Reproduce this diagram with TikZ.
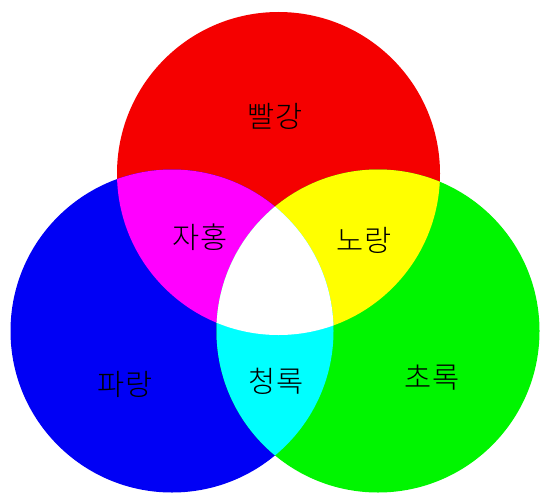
\documentclass[tikz,border=0pt]{standalone}
\usepackage{fontspec}
\newfontfamily\kor{Noto Sans CJK KR Light}
\definecolor{cR}{RGB}{245,0,0}
\definecolor{cG}{RGB}{0,245,0}
\definecolor{cB}{RGB}{0,0,245}
\definecolor{cM}{RGB}{255,0,255}
\definecolor{cY}{RGB}{255,255,0}
\definecolor{cC}{RGB}{0,255,255}
\begin{document}
\begin{tikzpicture}[x=1pt,y=-1pt,
  lab/.style={font=\kor\fontsize{29.5}{32}\selectfont, text=black, inner sep=0pt}]
\useasboundingbox[fill=white] (0,0) rectangle (548,503);
\def\rad{161.5}
\coordinate (R) at (278.5,173.5);
\coordinate (B) at (172,331);
\coordinate (G) at (378,331);
\fill[cR] (R) circle (\rad);
\fill[cB] (B) circle (\rad);
\fill[cG] (G) circle (\rad);
\begin{scope}
  \clip (R) circle (\rad);
  \fill[cM] (B) circle (\rad);
  \fill[cY] (G) circle (\rad);
\end{scope}
\begin{scope}
  \clip (B) circle (\rad);
  \fill[cC] (G) circle (\rad);
  \clip (G) circle (\rad);
  \fill[white] (R) circle (\rad);
\end{scope}
\node[lab] (red) at (275,116) {빨강};
\node[lab] (mag) at (200,237) {자홍};
\node[lab] (yel) at (364,240) {노랑};
\node[lab] (blu) at (125,384) {파랑};
\node[lab] (cya) at (276,381) {청록};
\node[lab] (grn) at (432,378) {초록};
\end{tikzpicture}
\end{document}
